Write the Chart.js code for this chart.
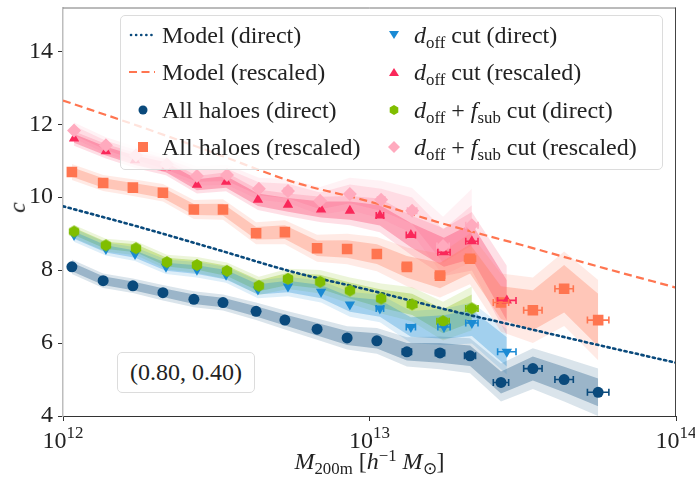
<!DOCTYPE html>
<html>
<head>
<meta charset="utf-8">
<script src="https://cdn.jsdelivr.net/npm/chart.js@4.4.1/dist/chart.umd.min.js"></script>
<style>
body { margin: 0; background: #fff; font-family: 'Liberation Serif', 'Times New Roman', serif; color: #222; }
#wrap { position: relative; width: 695px; height: 482px; }
#plot { position: absolute; left: 0; top: 0; }
sub { font-size: 70%; vertical-align: -0.3em; line-height: 0; }
sup { font-size: 70%; vertical-align: 0.5em; line-height: 0; }
#legend { position: absolute; left: 120px; top: 15px; width: 541px; height: 153px;
  border: 1px solid #dcdcdc; border-radius: 5px; background: rgba(255,255,255,0.8); }
.row { position: absolute; height: 28px; line-height: 28px; font-size: 24px; white-space: nowrap; }
.mk { position: absolute; top: 0; height: 28px; }
#box { position: absolute; left: 117px; top: 352px; width: 136px; height: 39px; line-height: 39px;
  border: 1px solid #dcdcdc; border-radius: 5px; text-align: center; font-size: 24px; background: #fff; }
#xlab { position: absolute; left: 0; width: 739px; top: 448px; text-align: center; font-size: 24px; }
#ylab { position: absolute; left: 12px; top: 194px; font-size: 24px; transform: rotate(-90deg); }
</style>
</head>
<body>
<div id="wrap">
  <canvas id="plot" width="695" height="482"></canvas>
  <div id="legend"></div>
  <div id="box">(0.80, 0.40)</div>
  <div id="xlab"><i>M</i><sub>200m</sub> [<i>h</i><sup>−1</sup> <i>M</i><sub>⊙</sub>]</div>
  <div id="ylab"><i>c</i></div>
</div>
<script>
// ejes
const xTicks = [1e12, 1e13, 1e14];
const yTicks = [4, 6, 8, 10, 12, 14];

// modelo (log10 M)
const modelMass = [12, 12.25, 12.5, 12.75, 13, 13.25, 13.5, 13.75, 14];
const modelDirect = [9.75, 9.18, 8.57, 7.95, 7.45, 6.92, 6.43, 5.94, 5.46];
const modelRescaled = [12.65, 11.94, 11.19, 10.42, 9.88, 9.25, 8.68, 8.09, 7.52];

// todos los halos
const allMass = [12.029, 12.131, 12.228, 12.326, 12.427, 12.522, 12.630, 12.724, 12.829,
                 12.927, 13.024, 13.122, 13.230, 13.328, 13.429, 13.533, 13.635, 13.746];
const allXErr = [0, 0, 0, 0, 0, 0, 0, 0, 0, 0, 0.008, 0.015, 0.015, 0.018, 0.025, 0.03, 0.03, 0.035];
const allDirect = [8.09, 7.71, 7.57, 7.38, 7.20, 7.11, 6.87, 6.63, 6.38, 6.14, 6.06, 5.76, 5.73, 5.65, 4.92, 5.30, 5.00, 4.65];
const allDirectE1 = [0.12, 0.12, 0.12, 0.12, 0.13, 0.13, 0.14, 0.15, 0.17, 0.19, 0.21, 0.24, 0.27, 0.28, 0.30, 0.33, 0.35, 0.38];
const allDirectE2 = [0.20, 0.20, 0.20, 0.21, 0.22, 0.22, 0.24, 0.26, 0.29, 0.32, 0.35, 0.40, 0.45, 0.48, 0.52, 0.56, 0.60, 0.65];
const allRescaled = [10.69, 10.39, 10.26, 10.12, 9.66, 9.66, 9.01, 9.04, 8.60, 8.58, 8.44, 8.09, 7.85, 8.31, 7.11, 6.90, 7.49, 6.63];
const allRescaledE1 = [0.13, 0.13, 0.13, 0.14, 0.15, 0.16, 0.17, 0.19, 0.21, 0.24, 0.27, 0.30, 0.35, 0.40, 0.45, 0.55, 0.65, 0.72];
const allRescaledE2 = [0.22, 0.22, 0.23, 0.24, 0.26, 0.28, 0.30, 0.33, 0.37, 0.42, 0.47, 0.53, 0.60, 0.70, 0.80, 0.90, 1.02, 1.10];

// corte d_off
const offMass = [12.036, 12.140, 12.235, 12.336, 12.437, 12.532, 12.636, 12.734, 12.842,
                 12.936, 13.034, 13.135, 13.243, 13.334, 13.448];
const offXErr = [0, 0, 0, 0, 0, 0, 0, 0, 0, 0, 0.012, 0.015, 0.02, 0.02, 0.03];
const offDirect = [8.96, 8.58, 8.44, 8.09, 8.01, 7.87, 7.47, 7.55, 7.41, 7.06, 6.95, 6.44, 6.44, 6.55, 5.76];
const offDirectE1 = [0.10, 0.10, 0.10, 0.11, 0.12, 0.13, 0.14, 0.16, 0.18, 0.20, 0.23, 0.27, 0.32, 0.36, 0.40];
const offDirectE2 = [0.18, 0.18, 0.19, 0.20, 0.21, 0.22, 0.24, 0.27, 0.30, 0.34, 0.38, 0.44, 0.50, 0.56, 0.62];
const offRescaled = [11.61, 11.26, 11.01, 10.82, 10.34, 10.42, 9.93, 9.79, 9.66, 9.63, 9.50, 8.96, 8.49, 8.79, 7.17];
const offRescaledE1 = [0.12, 0.12, 0.13, 0.14, 0.15, 0.16, 0.17, 0.19, 0.22, 0.25, 0.28, 0.33, 0.40, 0.48, 0.55];
const offRescaledE2 = [0.20, 0.20, 0.21, 0.22, 0.24, 0.26, 0.28, 0.31, 0.35, 0.40, 0.46, 0.54, 0.65, 0.80, 0.95];

// corte d_off + f_sub
const subMass = [12.036, 12.140, 12.238, 12.339, 12.437, 12.535, 12.639, 12.734, 12.839,
                 12.936, 13.038, 13.139, 13.240, 13.334];
const subXErr = [0, 0, 0, 0, 0, 0, 0, 0.012, 0, 0, 0.012, 0.015, 0.02, 0.02];
const subDirect = [9.06, 8.68, 8.60, 8.22, 8.14, 7.98, 7.57, 7.76, 7.68, 7.44, 7.22, 7.06, 6.60, 6.95];
const subDirectE1 = [0.10, 0.10, 0.11, 0.12, 0.13, 0.14, 0.15, 0.17, 0.19, 0.22, 0.25, 0.29, 0.33, 0.38];
const subDirectE2 = [0.18, 0.18, 0.19, 0.20, 0.22, 0.23, 0.25, 0.28, 0.32, 0.36, 0.41, 0.47, 0.53, 0.60];
const subRescaled = [11.83, 11.42, 11.15, 10.90, 10.58, 10.61, 10.23, 10.17, 9.90, 10.09, 9.93, 9.63, 8.66, 9.23];
const subRescaledE1 = [0.13, 0.13, 0.14, 0.15, 0.16, 0.17, 0.18, 0.20, 0.23, 0.26, 0.30, 0.36, 0.45, 0.55];
const subRescaledE2 = [0.22, 0.22, 0.23, 0.24, 0.26, 0.28, 0.30, 0.33, 0.38, 0.44, 0.52, 0.62, 0.80, 1.00];

const colNavy = '10,74,124', colCoral = '255,117,80', colBlue = '26,138,212',
      colRed = '250,40,90', colGreen = '128,190,0', colPink = '255,170,190';
const rgba = (c, a) => `rgba(${c},${a})`;

// hexagono para el marcador verde
let hexagono = (r, c) => {
    let cv = document.createElement('canvas');
    cv.width = cv.height = 2 * r + 2;
    let g = cv.getContext('2d');
    g.beginPath();
    for (let k = 0; k < 6; k++) {
        let a = Math.PI / 6 + k * Math.PI / 3;
        g.lineTo(r + 1 + r * Math.cos(a), r + 1 + r * Math.sin(a));
    }
    g.closePath();
    g.fillStyle = c;
    g.fill();
    return cv;
};

const series = [
    { label: 'All haloes (direct)', mass: allMass, c: allDirect, e1: allDirectE1, e2: allDirectE2, xerr: allXErr, col: colNavy, style: 'circle', r: 5.5, order: 6 },
    { label: 'All haloes (rescaled)', mass: allMass, c: allRescaled, e1: allRescaledE1, e2: allRescaledE2, xerr: allXErr, col: colCoral, style: 'rect', r: 7.5, order: 5 },
    { label: 'd_off cut (direct)', mass: offMass, c: offDirect, e1: offDirectE1, e2: offDirectE2, xerr: offXErr, col: colBlue, style: 'triangle', rot: 180, r: 6, order: 4 },
    { label: 'd_off cut (rescaled)', mass: offMass, c: offRescaled, e1: offRescaledE1, e2: offRescaledE2, xerr: offXErr, col: colRed, style: 'triangle', r: 6, order: 3 },
    { label: 'd_off + f_sub cut (direct)', mass: subMass, c: subDirect, e1: subDirectE1, e2: subDirectE2, xerr: subXErr, col: colGreen, style: hexagono(6, 'rgb(' + colGreen + ')'), r: 6, order: 2 },
    { label: 'd_off + f_sub cut (rescaled)', mass: subMass, c: subRescaled, e1: subRescaledE1, e2: subRescaledE2, xerr: subXErr, col: colPink, style: 'rectRot', r: 7, order: 1 }
];

let datasets = [];

// modelos
datasets.push({
    label: 'Model (direct)', data: modelMass.map((m, i) => ({ x: 10 ** m, y: modelDirect[i] })),
    borderColor: rgba(colNavy, 1), borderWidth: 2.6, borderDash: [2.2, 3.6], borderCapStyle: 'round',
    pointRadius: 0, fill: false, tension: 0.4, cubicInterpolationMode: 'monotone', order: 8
});
datasets.push({
    label: 'Model (rescaled)', data: modelMass.map((m, i) => ({ x: 10 ** m, y: modelRescaled[i] })),
    borderColor: rgba(colCoral, 1), borderWidth: 2.2, borderDash: [8, 4.5],
    pointRadius: 0, fill: false, tension: 0.4, cubicInterpolationMode: 'monotone', order: 8
});

// bandas
let addBand = (s, err, alpha) => {
    datasets.push({
        data: s.mass.map((m, i) => ({ x: 10 ** m, y: s.c[i] + err[i] })),
        borderWidth: 0, pointRadius: 0, fill: false, order: 10
    });
    datasets.push({
        data: s.mass.map((m, i) => ({ x: 10 ** m, y: s.c[i] - err[i] })),
        borderWidth: 0, pointRadius: 0, fill: '-1', backgroundColor: rgba(s.col, alpha), order: 10
    });
};
series.forEach(s => { addBand(s, s.e2, 0.15); addBand(s, s.e1, 0.3); });

// puntos
series.forEach(s => {
    datasets.push({
        label: s.label, data: s.mass.map((m, i) => ({ x: 10 ** m, y: s.c[i] })),
        showLine: false, pointStyle: s.style, pointRadius: s.r, pointRotation: s.rot || 0,
        backgroundColor: rgba(s.col, 1), borderColor: rgba(s.col, 1), pointBorderWidth: 0,
        order: s.order
    });
});

// barras de error en x
const barrasX = {
    id: 'barrasX',
    afterDatasetsDraw(chart) {
        let ctx = chart.ctx, xs = chart.scales.x, ys = chart.scales.y;
        ctx.save();
        ctx.lineWidth = 1.6;
        series.slice().reverse().forEach(s => {
            ctx.strokeStyle = rgba(s.col, 1);
            s.mass.forEach((m, i) => {
                let e = s.xerr[i];
                if (!e) return;
                let x0 = xs.getPixelForValue(10 ** (m - e)), x1 = xs.getPixelForValue(10 ** (m + e));
                let y = ys.getPixelForValue(s.c[i]);
                ctx.beginPath();
                ctx.moveTo(x0, y); ctx.lineTo(x1, y);
                ctx.moveTo(x0, y - 3.5); ctx.lineTo(x0, y + 3.5);
                ctx.moveTo(x1, y - 3.5); ctx.lineTo(x1, y + 3.5);
                ctx.stroke();
            });
        });
        ctx.restore();
    }
};

// marco y etiquetas 10^n
const marco = {
    id: 'marco',
    afterDraw(chart) {
        let ctx = chart.ctx, a = chart.chartArea, xs = chart.scales.x;
        ctx.save();
        ctx.lineWidth = 1;
        ctx.strokeStyle = '#777';
        ctx.beginPath(); ctx.moveTo(a.left, a.top + 0.5); ctx.lineTo(a.right, a.top + 0.5); ctx.stroke();
        ctx.strokeStyle = '#444';
        ctx.beginPath(); ctx.moveTo(a.right - 0.5, a.top); ctx.lineTo(a.right - 0.5, a.bottom); ctx.stroke();
        ctx.fillStyle = '#222';
        ctx.textBaseline = 'alphabetic';
        xTicks.forEach(v => {
            let px = xs.getPixelForValue(v);
            let ex = String(Math.round(Math.log10(v)));
            ctx.font = '24px "Liberation Serif"';
            let w1 = ctx.measureText('10').width;
            ctx.font = '17px "Liberation Serif"';
            let w2 = ctx.measureText(ex).width;
            let x0 = px - (w1 + w2) / 2;
            ctx.font = '24px "Liberation Serif"';
            ctx.fillText('10', x0, a.bottom + 32);
            ctx.font = '17px "Liberation Serif"';
            ctx.fillText(ex, x0 + w1, a.bottom + 22);
        });
        ctx.restore();
    }
};

let plotRef = document.getElementById('plot');
let chart = new Chart(plotRef, {
    type: 'line',
    data: { datasets: datasets },
    options: {
        responsive: false,
        animation: false,
        devicePixelRatio: 1,
        layout: { padding: { top: 3, right: 19, left: 0, bottom: 0 } },
        plugins: { legend: { display: false }, tooltip: { enabled: false } },
        elements: { line: { tension: 0 } },
        scales: {
            x: {
                type: 'logarithmic', min: 1e12, max: 1e14,
                afterBuildTicks: s => { s.ticks = xTicks.map(v => ({ value: v })); },
                afterFit: s => { s.height = 66; s.paddingLeft = 0; s.paddingRight = 0; },
                ticks: { display: false },
                grid: { drawOnChartArea: false, drawTicks: true, tickLength: 5, tickColor: '#333' },
                border: { display: true, color: '#333', width: 1 }
            },
            y: {
                type: 'linear', min: 4, max: 15.2,
                afterBuildTicks: s => { s.ticks = yTicks.map(v => ({ value: v })); },
                afterFit: s => { s.width = 63; s.paddingTop = 0; s.paddingBottom = 0; },
                ticks: { padding: 5, color: '#222', font: { family: 'Liberation Serif', size: 24 } },
                grid: { drawOnChartArea: false, drawTicks: true, tickLength: 5, tickColor: '#333' },
                border: { display: true, color: '#bdbdbd', width: 1.5 }
            }
        }
    },
    plugins: [barrasX, marco]
});

// leyenda
const navy = rgba(colNavy, 1);
const entradas = [
    { col: 0, row: 0, html: 'Model (direct)', svg: `<svg width="26" height="28"><line x1="2" y1="14" x2="26" y2="14" stroke="${navy}" stroke-width="2.6" stroke-dasharray="0.1 5" stroke-linecap="round"/></svg>` },
    { col: 0, row: 1, html: 'Model (rescaled)', svg: `<svg width="26" height="28"><line x1="0" y1="14" x2="26" y2="14" stroke="${rgba(colCoral, 1)}" stroke-width="2.2" stroke-dasharray="8 4.5"/></svg>` },
    { col: 0, row: 2, html: 'All haloes (direct)', svg: `<svg width="26" height="28"><circle cx="14" cy="14" r="4.5" fill="${navy}"/></svg>` },
    { col: 0, row: 3, html: 'All haloes (rescaled)', svg: `<svg width="26" height="28"><rect x="9" y="9" width="10" height="10" fill="${rgba(colCoral, 1)}"/></svg>` },
    { col: 1, row: 0, html: '<i>d</i><sub>off</sub> cut (direct)', svg: `<svg width="26" height="28"><polygon points="8,10 18,10 13,18" fill="${rgba(colBlue, 1)}"/></svg>` },
    { col: 1, row: 1, html: '<i>d</i><sub>off</sub> cut (rescaled)', svg: `<svg width="26" height="28"><polygon points="8,18 18,18 13,10" fill="${rgba(colRed, 1)}"/></svg>` },
    { col: 1, row: 2, html: '<i>d</i><sub>off</sub> + <i>f</i><sub>sub</sub> cut (direct)', svg: `<svg width="26" height="28"><polygon points="13,9 17.3,11.5 17.3,16.5 13,19 8.7,16.5 8.7,11.5" fill="${rgba(colGreen, 1)}"/></svg>` },
    { col: 1, row: 3, html: '<i>d</i><sub>off</sub> + <i>f</i><sub>sub</sub> cut (rescaled)', svg: `<svg width="26" height="28"><polygon points="13,8 19,14 13,20 7,14" fill="${rgba(colPink, 1)}"/></svg>` }
];
const rowY = [5, 42, 80, 117];
const colX = [8, 260];
let leyenda = document.getElementById('legend');
entradas.forEach(e => {
    let d = document.createElement('div');
    d.className = 'row';
    d.style.left = colX[e.col] + 'px';
    d.style.top = rowY[e.row] + 'px';
    d.innerHTML = `<span class="mk" style="left:0">${e.svg}</span><span style="margin-left:33px">${e.html}</span>`;
    leyenda.appendChild(d);
});
</script>
</body>
</html>
